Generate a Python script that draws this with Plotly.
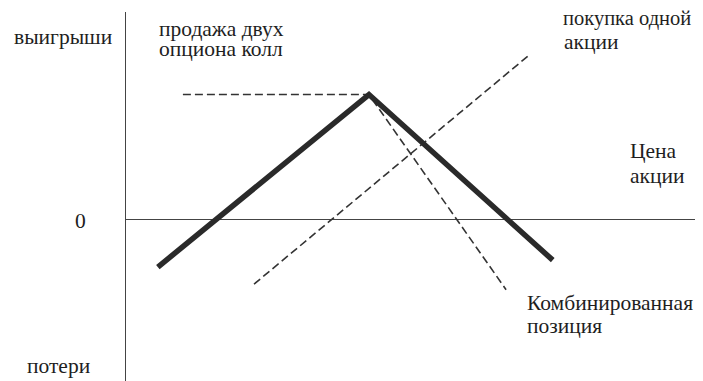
import plotly.graph_objects as go

# Data (price units 0..100, profit units)
combined_x = [5.6, 42.7, 75.0]
combined_y = [-10.3, 27.1, -8.8]
calls_x = [10.0, 42.7, 66.8]
calls_y = [27.1, 27.1, -15.2]
stock_x = [22.5, 70.7]
stock_y = [-14.0, 35.5]

OFF = 8  # default page body margin
W, H = 703 - OFF, 381 - OFF
L, R, T, B = 126 - OFF, 8, 12 - OFF, 0
PW, PH = W - L - R, H - T - B

def px(x):
    return (x - OFF - L) / PW

def py(y):
    return (H - B - (y - OFF)) / PH

ink = "#1e1e1e"
fig = go.Figure()
fig.add_trace(go.Scatter(x=calls_x, y=calls_y, mode="lines",
                         line=dict(color="#333333", width=1.6, dash="8px,4px"),
                         hoverinfo="skip", showlegend=False))
fig.add_trace(go.Scatter(x=stock_x, y=stock_y, mode="lines",
                         line=dict(color="#333333", width=1.6, dash="8px,4px"),
                         hoverinfo="skip", showlegend=False))
fig.add_trace(go.Scatter(x=combined_x, y=combined_y, mode="lines",
                         line=dict(color="#2a2a2a", width=5.5),
                         hoverinfo="skip", showlegend=False))

labels = [
    ("выигрыши", 12, 37, "left", 21.5),
    ("продажа двух", 157, 29, "left", 21.5),
    ("опциона колл", 157, 49, "left", 21.5),
    ("покупка одной", 561, 19, "left", 20.5),
    ("акции", 562, 42, "left", 21.5),
    ("Цена", 628, 151, "left", 21.5),
    ("акции", 628, 176, "left", 21.5),
    ("0", 80, 221, "center", 21.5),
    ("Комбинированная", 525, 303, "left", 21.5),
    ("позиция", 525, 326, "left", 21.5),
    ("потери", 25, 366, "left", 21.5),
]
for text, x, y, anc, size in labels:
    fig.add_annotation(text=text, x=px(x), y=py(y), xref="paper", yref="paper",
                       xanchor=anc, yanchor="middle", showarrow=False,
                       font=dict(family="Liberation Serif", size=size, color=ink))

fig.update_xaxes(range=[0, 100], showgrid=False, zeroline=False, showticklabels=False,
                 ticks="", showline=False, fixedrange=True)
fig.update_yaxes(range=[-35, 45], showgrid=False, zeroline=True, zerolinecolor="#444444",
                 zerolinewidth=1.3, showticklabels=False, ticks="",
                 showline=True, linecolor="#444444", linewidth=1.3, mirror=False,
                 fixedrange=True)
fig.update_layout(width=W, height=H, margin=dict(l=L, r=R, t=T, b=B, pad=0),
                  paper_bgcolor="white", plot_bgcolor="white", showlegend=False)
fig.write_html("out.html")
